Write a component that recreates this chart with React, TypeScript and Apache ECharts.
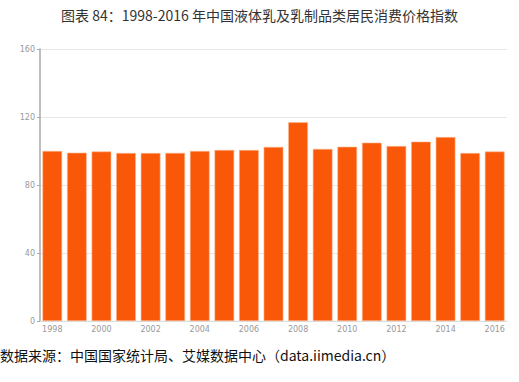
import React, { useEffect, useRef } from "react";
import * as echarts from "echarts";

const years = ["1998","1999","2000","2001","2002","2003","2004","2005","2006","2007","2008","2009","2010","2011","2012","2013","2014","2015","2016"];
const values = [100.0, 99.0, 99.7, 98.8, 98.8, 98.9, 100.0, 100.6, 100.6, 102.4, 116.9, 101.2, 102.5, 104.9, 102.9, 105.5, 108.2, 98.8, 99.7];
const title = "图表 84：1998-2016 年中国液体乳及乳制品类居民消费价格指数";
const source = "数据来源：中国国家统计局、艾媒数据中心（data.iimedia.cn）";

export default function App() {
  const ref = useRef<HTMLDivElement>(null);
  useEffect(() => {
    const chart = echarts.init(ref.current!, null, { renderer: "svg" });
    chart.setOption({
      animation: false,
      backgroundColor: "#ffffff",
      textStyle: { fontFamily: "Noto Sans CJK SC" },
      graphic: [
        { type: "text", left: "center", top: 8, style: { text: title, fontSize: 14, fill: "#333", fontFamily: "Noto Sans CJK SC" } },
        { type: "text", left: 0, top: 348, style: { text: source, fontSize: 14, fill: "#111", fontFamily: "Noto Sans CJK SC" } },
      ],
      grid: { left: 40, right: 12, top: 49, bottom: 61 },
      xAxis: {
        type: "category",
        data: years,
        axisLine: { lineStyle: { color: "#ddd" } },
        axisTick: { show: false },
        axisLabel: { interval: 1, color: "#999", fontSize: 8, margin: 4, fontFamily: "DejaVu Sans" },
      },
      yAxis: {
        type: "value",
        min: 0,
        max: 160,
        interval: 40,
        axisLine: { show: true, lineStyle: { color: "#aaa", width: 1.5 } },
        axisTick: { show: true, length: 3, lineStyle: { color: "#aaa" } },
        axisLabel: { color: "#999", fontSize: 8, margin: 5, fontFamily: "DejaVu Sans" },
        splitLine: { lineStyle: { color: "#e6e6e6" } },
      },
      series: [
        {
          type: "bar",
          data: values,
          barCategoryGap: "20%",
          itemStyle: { color: "#F85808", borderColor: "#FBB58E", borderWidth: 0.6 },
        },
      ],
    });
    return () => chart.dispose();
  }, []);
  return <div ref={ref} style={{ width: 519, height: 382, position: "absolute", left: 0, top: 0 }} />;
}
